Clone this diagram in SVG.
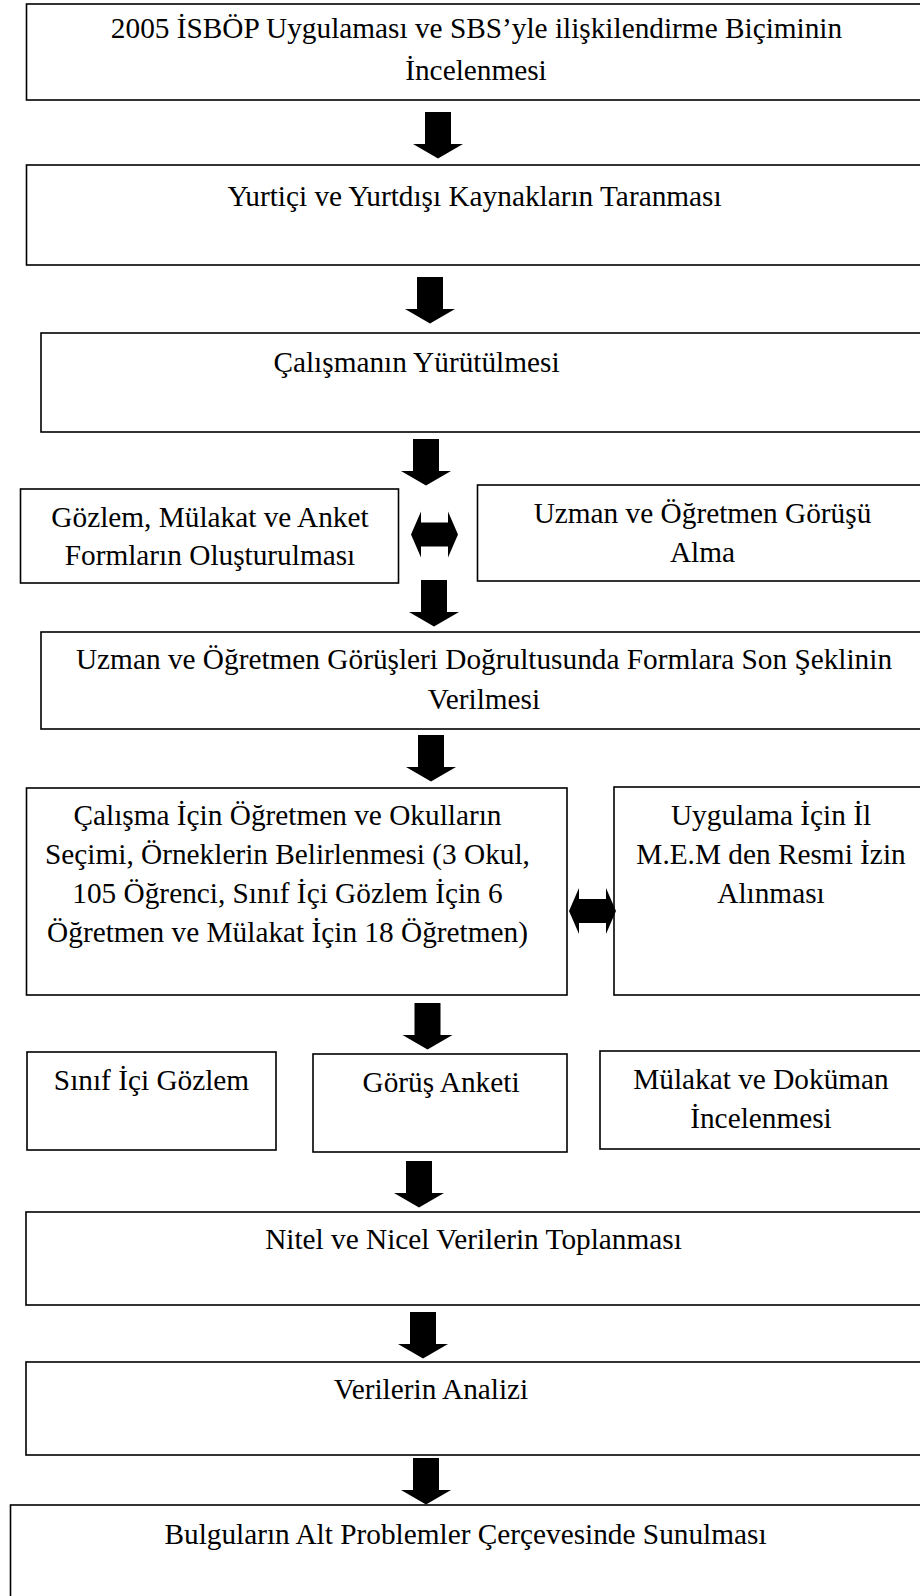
<svg xmlns="http://www.w3.org/2000/svg" xmlns:xlink="http://www.w3.org/1999/xlink" width="920" height="1596" viewBox="0 0 920 1596">
  <style>
    .box { fill: #ffffff; stroke: #000000; stroke-width: 1.6; }
    .lbl { font-family: "Liberation Serif", "Times New Roman", serif; font-size: 29.3px; fill: #000000; text-anchor: middle; }
    .arr { fill: #000000; }
  </style>
  <defs>
    <!-- block arrow pointing down, origin at top centre of shaft -->
    <path id="down" d="M -13 0 H 13 V 32 H 25 L 0 46.5 L -25 32 H -13 Z"/>
    <!-- left-right block arrow, origin at centre -->
    <path id="both" d="M -23.5 0 L -13.5 -23 V -12 H 13.5 V -23 L 23.5 0 L 13.5 23 V 12 H -13.5 V 23 Z"/>
  </defs>

  <rect width="920" height="1596" fill="#ffffff"/>

  <g id="n1">
    <rect class="box" x="26.5" y="4" width="920" height="96"/>
    <text class="lbl" x="476.5" y="37.5">2005 İSBÖP Uygulaması ve SBS’yle ilişkilendirme Biçiminin</text>
    <text class="lbl" x="476" y="79.5">İncelenmesi</text>
  </g>

  <g id="n2">
    <rect class="box" x="26.5" y="165" width="920" height="100"/>
    <text class="lbl" x="474.5" y="206">Yurtiçi ve Yurtdışı Kaynakların Taranması</text>
  </g>

  <g id="n3">
    <rect class="box" x="41" y="333" width="920" height="99"/>
    <text class="lbl" x="416.5" y="371.5">Çalışmanın Yürütülmesi</text>
  </g>

  <g id="n4">
    <rect class="box" x="20.5" y="489" width="378" height="94"/>
    <text class="lbl" x="210" y="526.5">Gözlem, Mülakat ve Anket</text>
    <text class="lbl" x="210" y="565">Formların Oluşturulması</text>
  </g>

  <g id="n5">
    <rect class="box" x="477.5" y="485" width="470" height="96"/>
    <text class="lbl" x="702.5" y="522.5">Uzman ve Öğretmen Görüşü</text>
    <text class="lbl" x="702.5" y="561.5">Alma</text>
  </g>

  <g id="n6">
    <rect class="box" x="41" y="632" width="920" height="97"/>
    <text class="lbl" x="484" y="668.5">Uzman ve Öğretmen Görüşleri Doğrultusunda Formlara Son Şeklinin</text>
    <text class="lbl" x="484" y="708.5">Verilmesi</text>
  </g>

  <g id="n7">
    <rect class="box" x="26.5" y="788" width="540.5" height="207"/>
    <text class="lbl" x="287.5" y="825">Çalışma İçin Öğretmen ve Okulların</text>
    <text class="lbl" x="287.5" y="864">Seçimi, Örneklerin Belirlenmesi (3 Okul,</text>
    <text class="lbl" x="287.5" y="903">105 Öğrenci, Sınıf İçi Gözlem İçin 6</text>
    <text class="lbl" x="287.5" y="942">Öğretmen ve Mülakat İçin 18 Öğretmen)</text>
  </g>

  <g id="n8">
    <rect class="box" x="614" y="787" width="340" height="208"/>
    <text class="lbl" x="771" y="825">Uygulama İçin İl</text>
    <text class="lbl" x="771" y="864">M.E.M den Resmi İzin</text>
    <text class="lbl" x="771" y="903">Alınması</text>
  </g>

  <g id="n9">
    <rect class="box" x="27" y="1052" width="249" height="98"/>
    <text class="lbl" x="151.5" y="1090">Sınıf İçi Gözlem</text>
  </g>

  <g id="n10">
    <rect class="box" x="313" y="1054" width="254" height="98"/>
    <text class="lbl" x="441" y="1091.5">Görüş Anketi</text>
  </g>

  <g id="n11">
    <rect class="box" x="600" y="1051" width="340" height="98"/>
    <text class="lbl" x="761" y="1089">Mülakat ve Doküman</text>
    <text class="lbl" x="761" y="1127.5">İncelenmesi</text>
  </g>

  <g id="n12">
    <rect class="box" x="26" y="1212" width="920" height="93"/>
    <text class="lbl" x="473.5" y="1249">Nitel ve Nicel Verilerin Toplanması</text>
  </g>

  <g id="n13">
    <rect class="box" x="26" y="1362" width="920" height="93"/>
    <text class="lbl" x="431" y="1399">Verilerin Analizi</text>
  </g>

  <g id="n14">
    <rect class="box" x="10.5" y="1505" width="940" height="120"/>
    <text class="lbl" x="465.5" y="1544">Bulguların Alt Problemler Çerçevesinde Sunulması</text>
  </g>

  <g id="connectors" class="arr">
    <use xlink:href="#down" href="#down" transform="translate(438,112)"/>
    <use xlink:href="#down" href="#down" transform="translate(430,277)"/>
    <use xlink:href="#down" href="#down" transform="translate(426,439)"/>
    <use xlink:href="#both" href="#both" transform="translate(434.5,534.5)"/>
    <use xlink:href="#down" href="#down" transform="translate(434,580)"/>
    <use xlink:href="#down" href="#down" transform="translate(431,735)"/>
    <use xlink:href="#both" href="#both" transform="translate(592.5,911)"/>
    <use xlink:href="#down" href="#down" transform="translate(427.5,1003)"/>
    <use xlink:href="#down" href="#down" transform="translate(419,1161)"/>
    <use xlink:href="#down" href="#down" transform="translate(423,1312)"/>
    <use xlink:href="#down" href="#down" transform="translate(426,1458)"/>
  </g>
</svg>
